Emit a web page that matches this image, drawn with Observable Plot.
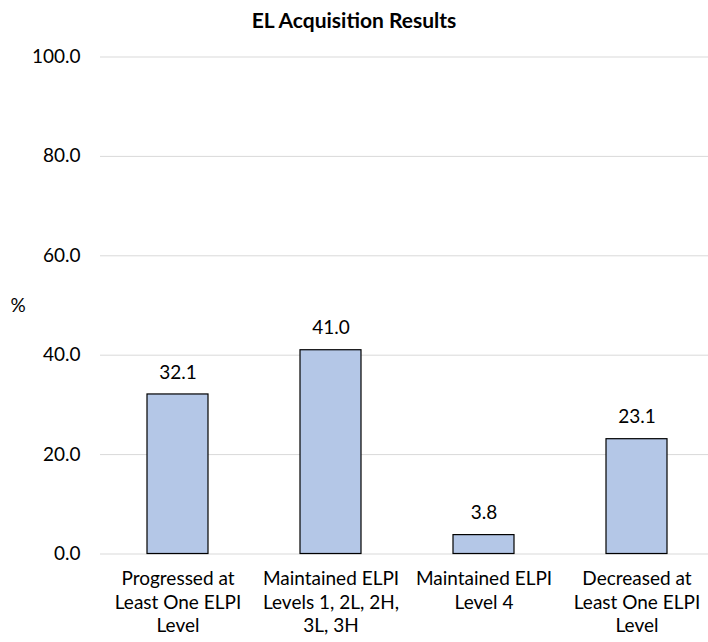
<!DOCTYPE html>
<html>
<head>
<meta charset="utf-8">
<script src="https://cdn.jsdelivr.net/npm/d3@7"></script>
<script src="https://cdn.jsdelivr.net/npm/@observablehq/plot@0.6"></script>
<style>
  body { margin: 0; background: #fff; font-family: Lato, sans-serif; }
  #title { height: 40px; line-height: 40px; text-align: center; font-weight: bold; font-size: 21px; color: #000; }
</style>
</head>
<body>
<div id="title">EL Acquisition Results</div>
<div id="chart"></div>
<script>
const categories = ["Progressed at Least One ELPI Level", "Maintained ELPI Levels 1, 2L, 2H, 3L, 3H", "Maintained ELPI Level 4", "Decreased at Least One ELPI Level"];
const tickLabels = ["Progressed at\nLeast One ELPI\nLevel", "Maintained ELPI\nLevels 1, 2L, 2H,\n3L, 3H", "Maintained ELPI\nLevel 4", "Decreased at\nLeast One ELPI\nLevel"];
const values = [32.1, 41.0, 3.8, 23.1];
const yTicks = [0, 20, 40, 60, 80, 100];

const data = categories.map((c, i) => ({category: c, value: values[i]}));
const labelOf = new Map(categories.map((c, i) => [c, tickLabels[i]]));

const chart = Plot.plot({
  width: 708,
  height: 602,
  marginLeft: 100,
  marginRight: 0,
  marginTop: 16.5,
  marginBottom: 88.5,
  style: {fontFamily: "Lato, sans-serif", fontSize: "19px", color: "#000", background: "#fff"},
  x: {domain: categories, range: [100, 715], paddingInner: 0.6, paddingOuter: 0.3},
  y: {domain: [0, 100]},
  marks: [
    Plot.gridY(yTicks, {stroke: "#d9d9d9", strokeOpacity: 1, strokeWidth: 1}),
    Plot.axisY(yTicks, {tickSize: 0, tickPadding: 20, tickFormat: d => d.toFixed(1), label: null, fontSize: 19}),
    Plot.axisX({tickSize: 0, tickPadding: 14, tickFormat: d => labelOf.get(d), label: null, fontSize: 19, lineHeight: 1.25}),
    Plot.barY(data, {x: "category", y: "value", fill: "#b4c7e7", stroke: "#000", strokeWidth: 1.2}),
    Plot.text(data, {x: "category", y: "value", text: d => d.value.toFixed(1), dy: -22, fontSize: 19, fill: "#000"}),
    Plot.text(["%"], {frameAnchor: "left", dx: -90, textAnchor: "start", fontSize: 19, fill: "#000"})
  ]
});
document.getElementById("chart").appendChild(chart);
</script>
</body>
</html>
